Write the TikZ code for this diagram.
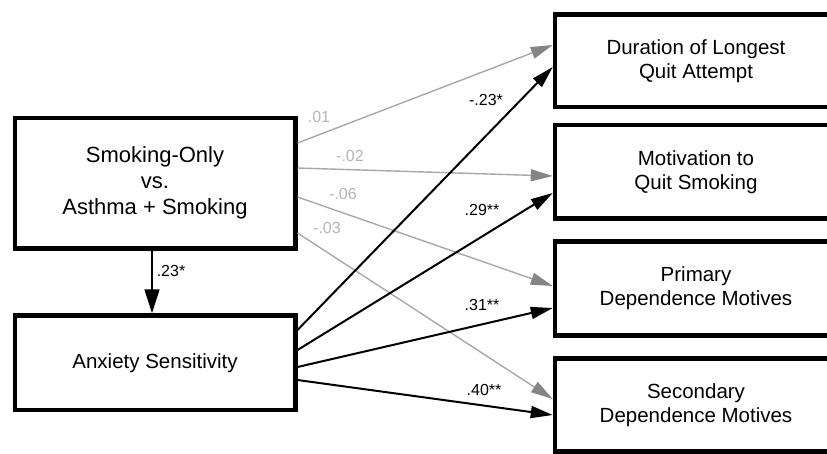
\documentclass[tikz,border=0pt]{standalone}
\usepackage{fontspec}
\setmainfont{Liberation Sans}
\usetikzlibrary{arrows.meta}
\definecolor{grayline}{HTML}{A8A8A8}
\definecolor{graytip}{HTML}{858585}
\definecolor{graylab}{HTML}{B4B4B4}
\begin{document}
\begin{tikzpicture}[x=1pt,y=-1pt,
  box/.style={draw=black,line width=4.5pt,rectangle,inner sep=0pt,align=center,fill=white},
  bigtext/.style={font=\fontsize{22}{25.8}\selectfont},
  boxtext/.style={font=\fontsize{20.5}{24}\selectfont},
  coef/.style={font=\fontsize{16}{18}\selectfont,inner sep=0pt},
  graycoef/.style={coef,text=graylab},
  grayarrow/.style={draw=grayline,line width=1.4pt,-{Triangle[length=22pt,width=12pt,color=graytip]}},
  blackarrow/.style={draw=black,line width=2pt,-{Triangle[length=22pt,width=12pt]}}
]
\useasboundingbox (0,0) rectangle (827,453);
% left boxes
\node[box,bigtext,minimum width=280.5pt,minimum height=130.5pt] (smk) at (155,183)
  {Smoking-Only\\vs.\\Asthma + Smoking};
\node[box,boxtext,minimum width=280.5pt,minimum height=94.5pt] (anx) at (155,362.75)
  {Anxiety Sensitivity};
% right boxes
\node[box,boxtext,minimum width=282pt,minimum height=92.5pt] (dur) at (696,60.75)
  {Duration of Longest\\Quit Attempt};
\node[box,boxtext,minimum width=282pt,minimum height=93.5pt] (mot) at (696,171.75)
  {Motivation to\\Quit Smoking};
\node[box,boxtext,minimum width=282pt,minimum height=94pt] (pri) at (696,288.5)
  {Primary\\Dependence Motives};
\node[box,boxtext,minimum width=282pt,minimum height=93pt] (sec) at (696,405)
  {Secondary\\Dependence Motives};
% gray paths
\draw[grayarrow] (smk.east |- 0,143) -- (dur.west |- 0,45);
\draw[grayarrow] (smk.east |- 0,168) -- (mot.west |- 0,176);
\draw[grayarrow] (smk.east |- 0,197) -- (pri.west |- 0,286);
\draw[grayarrow] (smk.east |- 0,233) -- (sec.west |- 0,399);
% black paths
\draw[blackarrow] (anx.east |- 0,330) -- (dur.west |- 0,67);
\draw[blackarrow] (anx.east |- 0,350) -- (mot.west |- 0,193);
\draw[blackarrow] (anx.east |- 0,367) -- (pri.west |- 0,308);
\draw[blackarrow] (anx.east |- 0,380) -- (sec.west |- 0,415);
\draw[draw=black,line width=1.6pt,-{Triangle[length=24pt,width=15pt]}] (smk.south -| 152,0) -- (anx.north -| 152,0);
% labels
\node[graycoef] (l1) at (319,117) {.01};
\node[graycoef] (l2) at (350,156) {-.02};
\node[graycoef] (l3) at (343,194) {-.06};
\node[graycoef] (l4) at (327,228) {-.03};
\node[coef] (l5) at (486,100) {-.23*};
\node[coef] (l6) at (482,210) {.29**};
\node[coef] (l7) at (482,305) {.31**};
\node[coef] (l8) at (484,390) {.40**};
\node[coef] (l9) at (171,271) {.23*};
\end{tikzpicture}
\end{document}
